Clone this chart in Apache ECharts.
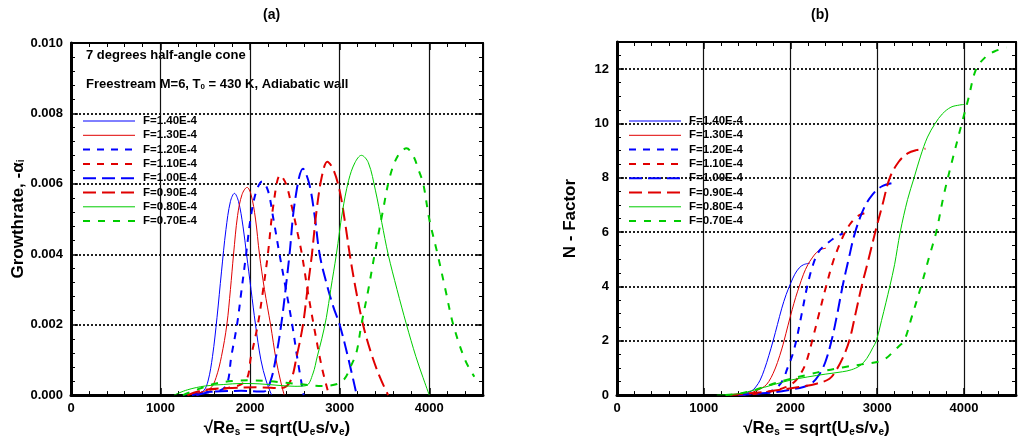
<!DOCTYPE html>
<html>
<head>
<meta charset="utf-8">
<script src="https://cdn.jsdelivr.net/npm/echarts@6/dist/echarts.min.js"></script>
<style>
  html, body { margin: 0; padding: 0; background: #fff; }
  #chart { width: 1019px; height: 442px; }
</style>
</head>
<body>
<div id="chart"></div>
<script>
// Disturbance frequencies
const freqLabels = ['F=1.40E-4', 'F=1.30E-4', 'F=1.20E-4', 'F=1.10E-4',
                    'F=1.00E-4', 'F=0.90E-4', 'F=0.80E-4', 'F=0.70E-4'];

// Axis ticks
const xTicks = [0, 1000, 2000, 3000, 4000];
const growthTicks = [0, 0.002, 0.004, 0.006, 0.008, 0.010];
const nTicks = [0, 2, 4, 6, 8, 10, 12];

// (a) growth rate -alpha_i versus sqrt(Re_s)
const g140X = [1250, 1400, 1480, 1530, 1580, 1630, 1680, 1730, 1780, 1825, 1870, 1920, 1960, 2010, 2060, 2120, 2180, 2240];
const g140Y = [0, 0.00005, 0.00012, 0.0004, 0.0011, 0.0022, 0.0035, 0.0047, 0.0055, 0.00573, 0.0055, 0.0048, 0.0040, 0.0030, 0.0020, 0.0010, 0.0004, 0];
const g130X = [1300, 1450, 1560, 1620, 1680, 1740, 1780, 1815, 1860, 1910, 1966, 2010, 2060, 2104, 2160, 2228, 2290, 2340, 2380];
const g130Y = [0, 0.00008, 0.0002, 0.0005, 0.0011, 0.0020, 0.0030, 0.0040, 0.0051, 0.0057, 0.0059, 0.0057, 0.0050, 0.0040, 0.0030, 0.0020, 0.0010, 0.0004, 0];
const g120X = [1350, 1500, 1650, 1740, 1790, 1854, 1900, 1955, 2010, 2070, 2134, 2200, 2260, 2328, 2400, 2470, 2530, 2597];
const g120Y = [0, 0.00008, 0.00012, 0.0003, 0.0011, 0.0020, 0.0029, 0.0040, 0.0051, 0.0058, 0.00607, 0.0058, 0.0050, 0.0040, 0.0030, 0.0020, 0.0010, 0];
const g110X = [1400, 1550, 1750, 1948, 2010, 2086, 2140, 2198, 2260, 2336, 2400, 2470, 2530, 2578, 2640, 2709, 2800, 2880];
const g110Y = [0, 0.00015, 0.0002, 0.0004, 0.0011, 0.0020, 0.0029, 0.0040, 0.0054, 0.00625, 0.0060, 0.0053, 0.0046, 0.0040, 0.0030, 0.0020, 0.0008, 0];
const g100X = [1400, 1600, 1900, 2150, 2228, 2290, 2347, 2400, 2440, 2500, 2590, 2660, 2720, 2776, 2850, 2930, 3000, 3100, 3190];
const g100Y = [0, 0.0001, 0.00012, 0.0001, 0.0004, 0.0011, 0.0020, 0.0031, 0.0040, 0.0055, 0.00643, 0.0060, 0.0051, 0.0040, 0.0032, 0.0025, 0.0020, 0.0010, 0];
const g090X = [1300, 1500, 1800, 2100, 2350, 2450, 2520, 2590, 2640, 2690, 2740, 2800, 2862, 2930, 3000, 3060, 3112, 3180, 3261, 3350, 3450, 3541];
const g090Y = [0, 0.00015, 0.0002, 0.00022, 0.0002, 0.0004, 0.0011, 0.0020, 0.0030, 0.0040, 0.0052, 0.0062, 0.00663, 0.0064, 0.0058, 0.0049, 0.0040, 0.0030, 0.0020, 0.0012, 0.0005, 0];
const g080X = [1150, 1300, 1500, 1700, 1900, 2100, 2300, 2500, 2627, 2700, 2750, 2800, 2851, 2900, 2963, 3030, 3100, 3170, 3242, 3320, 3400, 3470, 3541, 3640, 3746, 3850, 3930, 4000];
const g080Y = [0, 0.00015, 0.00026, 0.0003, 0.00033, 0.00032, 0.00028, 0.00025, 0.00027, 0.0006, 0.0011, 0.0016, 0.0022, 0.0030, 0.0040, 0.0052, 0.0061, 0.0066, 0.00681, 0.0066, 0.0058, 0.0049, 0.0040, 0.0030, 0.0020, 0.0011, 0.0005, 0];
const g070X = [1250, 1400, 1600, 1800, 2000, 2200, 2400, 2600, 2800, 2950, 3050, 3120, 3186, 3242, 3320, 3390, 3480, 3560, 3650, 3746, 3820, 3880, 3933, 4000, 4093, 4180, 4268, 4400, 4503];
const g070Y = [0, 0.00015, 0.00032, 0.0004, 0.00042, 0.0004, 0.00035, 0.0003, 0.00026, 0.0003, 0.00045, 0.0008, 0.0012, 0.0020, 0.0030, 0.0040, 0.0052, 0.0062, 0.0068, 0.00701, 0.0068, 0.0064, 0.0060, 0.0050, 0.0040, 0.0030, 0.0020, 0.0010, 0.00052];

// (b) N-factor versus sqrt(Re_s)
const n140X = [1300, 1450, 1550, 1600, 1650, 1700, 1750, 1800, 1850, 1900, 1950, 2000, 2050, 2100, 2150, 2224];
const n140Y = [0, 0.05, 0.15, 0.3, 0.55, 0.95, 1.45, 2.0, 2.6, 3.2, 3.7, 4.1, 4.45, 4.68, 4.8, 4.86];
const n130X = [1350, 1500, 1600, 1700, 1750, 1800, 1850, 1900, 1926, 1970, 2020, 2060, 2101, 2150, 2200, 2250, 2300, 2350, 2410];
const n130Y = [0, 0.05, 0.15, 0.32, 0.5, 0.8, 1.2, 1.7, 2.0, 2.55, 3.15, 3.6, 4.0, 4.45, 4.8, 5.05, 5.25, 5.36, 5.41];
const n120X = [1400, 1600, 1750, 1850, 1920, 1960, 2020, 2066, 2130, 2193, 2260, 2330, 2430, 2520, 2604];
const n120Y = [0, 0.05, 0.12, 0.3, 0.6, 0.95, 1.45, 2.0, 3.0, 4.0, 4.8, 5.3, 5.6, 5.82, 5.95];
const n110X = [1400, 1600, 1800, 1950, 2050, 2120, 2180, 2250, 2330, 2410, 2490, 2560, 2630, 2700, 2780, 2880];
const n110Y = [0, 0.05, 0.15, 0.3, 0.5, 0.8, 1.2, 2.0, 3.0, 4.0, 4.9, 5.5, 6.0, 6.35, 6.6, 6.72];
const n100X = [1400, 1600, 1800, 2000, 2150, 2250, 2330, 2400, 2473, 2540, 2600, 2670, 2746, 2850, 2950, 3050, 3164];
const n100Y = [0, 0.05, 0.1, 0.2, 0.3, 0.45, 0.75, 1.2, 2.0, 3.0, 4.0, 5.0, 6.0, 6.9, 7.4, 7.68, 7.8];
const n090X = [1300, 1500, 1700, 1900, 2100, 2300, 2450, 2530, 2600, 2678, 2750, 2820, 2900, 2977, 3060, 3145, 3250, 3350, 3450, 3556];
const n090Y = [0, 0.05, 0.12, 0.2, 0.3, 0.42, 0.6, 0.93, 1.35, 2.0, 3.0, 4.0, 5.0, 6.0, 7.0, 8.0, 8.6, 8.9, 9.02, 9.07];
const n080X = [1150, 1400, 1600, 1800, 2000, 2200, 2400, 2600, 2700, 2800, 2880, 2950, 2990, 3050, 3100, 3145, 3200, 3265, 3350, 3425, 3500, 3580, 3668, 3750, 3850, 3950, 4003];
const n080Y = [0, 0.05, 0.2, 0.38, 0.55, 0.67, 0.77, 0.86, 0.93, 1.08, 1.35, 1.75, 2.0, 2.75, 3.4, 4.0, 4.8, 6.0, 7.2, 8.0, 8.8, 9.5, 10.0, 10.35, 10.6, 10.68, 10.7];
const n070X = [1250, 1400, 1600, 1800, 2000, 2200, 2400, 2600, 2800, 3000, 3100, 3200, 3250, 3311, 3400, 3505, 3600, 3680, 3770, 3870, 3975, 4050, 4140, 4250, 4350, 4490];
const n070Y = [0, 0.05, 0.2, 0.42, 0.6, 0.75, 0.9, 1.02, 1.12, 1.22, 1.35, 1.65, 1.8, 2.0, 2.9, 4.0, 5.1, 6.0, 7.4, 8.7, 10.0, 10.9, 12.0, 12.45, 12.65, 12.8];

const growthX = [g140X, g130X, g120X, g110X, g100X, g090X, g080X, g070X];
const growthY = [g140Y, g130Y, g120Y, g110Y, g100Y, g090Y, g080Y, g070Y];
const nFactorX = [n140X, n130X, n120X, n110X, n100X, n090X, n080X, n070X];
const nFactorY = [n140Y, n130Y, n120Y, n110Y, n100Y, n090Y, n080Y, n070Y];

// Line appearance per frequency
const BLUE = '#0000ff', RED = '#e00000', GREEN = '#00cc00';
const lineStyles = [
  { color: BLUE,  width: 1, type: 'solid' },
  { color: RED,   width: 1, type: 'solid' },
  { color: BLUE,  width: 2, type: [7, 7] },
  { color: RED,   width: 2, type: [7, 7] },
  { color: BLUE,  width: 2, type: [13, 6] },
  { color: RED,   width: 2, type: [13, 6] },
  { color: GREEN, width: 1, type: 'solid' },
  { color: GREEN, width: 2, type: [7, 8] }
];

const FONT = '"Liberation Sans", Arial, Helvetica, sans-serif';
const zip = (xs, ys) => xs.map((x, i) => [x, ys[i]]);

const subRich = {
  a: { fontSize: 17, fontWeight: 'bold', fontFamily: FONT, color: '#000', lineHeight: 20, verticalAlign: 'bottom' },
  s: { fontSize: 10, fontWeight: 'bold', fontFamily: FONT, color: '#000', lineHeight: 10, verticalAlign: 'bottom' }
};
const xName = '{a|√Re}{s|s}{a| = sqrt(U}{s|e}{a|s/ν}{s|e}{a|)}';

function bottomAxis(g) {
  return {
    gridIndex: g, type: 'value', position: 'bottom', min: 0, max: 4600, interval: 1000,
    axisLine: { show: true, onZero: false, lineStyle: { color: '#000', width: 3 } },
    axisTick: { show: true, inside: true, length: 7, lineStyle: { color: '#000', width: 1.5 } },
    minorTick: { show: true, splitNumber: 5, length: 4, lineStyle: { color: '#000', width: 1 } },
    axisLabel: { color: '#000', fontSize: 13, fontWeight: 'bold', fontFamily: FONT, margin: 7,
                 formatter: v => xTicks.includes(v) ? String(v) : '' },
    splitLine: { show: true, lineStyle: { color: '#111', width: 1.2 } },
    name: xName, nameLocation: 'middle', nameGap: 18,
    nameTextStyle: { rich: subRich }
  };
}
function topAxis(g) {
  return {
    gridIndex: g, type: 'value', position: 'top', min: 0, max: 4600, interval: 1000,
    axisLine: { show: true, onZero: false, lineStyle: { color: '#000', width: 2 } },
    axisTick: { show: true, inside: true, length: 7, lineStyle: { color: '#000', width: 1.5 } },
    minorTick: { show: true, splitNumber: 5, length: 4, lineStyle: { color: '#000', width: 1 } },
    axisLabel: { show: false }, splitLine: { show: false }
  };
}
function leftAxis(g, max, interval, minorSplit, fmt, name, gap) {
  return {
    gridIndex: g, type: 'value', position: 'left', min: 0, max: max, interval: interval,
    axisLine: { show: true, onZero: false, lineStyle: { color: '#000', width: 3 } },
    axisTick: { show: true, inside: true, length: 7, lineStyle: { color: '#000', width: 1.5 } },
    minorTick: { show: true, splitNumber: minorSplit, length: 4, lineStyle: { color: '#000', width: 1 } },
    axisLabel: { color: '#000', fontSize: 13, fontWeight: 'bold', fontFamily: FONT, margin: 8, formatter: fmt },
    splitLine: { show: true, lineStyle: { color: '#222', width: 2, type: 'dotted' } },
    name: name, nameLocation: 'middle', nameGap: gap, nameRotate: 90,
    nameTextStyle: { rich: subRich }
  };
}
function rightAxis(g, max, interval, minorSplit) {
  return {
    gridIndex: g, type: 'value', position: 'right', min: 0, max: max, interval: interval,
    axisLine: { show: true, onZero: false, lineStyle: { color: '#000', width: 2 } },
    axisTick: { show: true, inside: true, length: 7, lineStyle: { color: '#000', width: 1.5 } },
    minorTick: { show: true, splitNumber: minorSplit, length: 4, lineStyle: { color: '#000', width: 1 } },
    axisLabel: { show: false }, splitLine: { show: false }
  };
}

const series = [];
freqLabels.forEach((name, i) => {
  series.push({
    name: name, type: 'line', xAxisIndex: 0, yAxisIndex: 0,
    data: zip(growthX[i], growthY[i]), symbol: 'none', smooth: 0.35,
    lineStyle: lineStyles[i], itemStyle: { color: lineStyles[i].color }, z: 3
  });
});
freqLabels.forEach((name, i) => {
  series.push({
    name: name, type: 'line', xAxisIndex: 1, yAxisIndex: 1,
    data: zip(nFactorX[i], nFactorY[i]), symbol: 'none', smooth: 0.35,
    lineStyle: lineStyles[i], itemStyle: { color: lineStyles[i].color }, z: 3
  });
});

// Legend keys show only the line sample (same width and dash as the curve), no marker
const legendEntries = freqLabels.map((name, i) => ({
  name: name,
  lineStyle: { width: lineStyles[i].width, type: lineStyles[i].type, color: lineStyles[i].color }
}));
const legendBase = {
  data: legendEntries, orient: 'vertical', top: 114, padding: 0,
  itemWidth: 52, itemHeight: 14, itemGap: 0.3, selectedMode: false,
  itemStyle: { opacity: 0, borderWidth: 0 },
  textStyle: { color: '#000', fontSize: 11.5, fontWeight: 'bold', fontFamily: FONT, lineHeight: 14, padding: [0, 0, 0, 3] }
};

const option = {
  animation: false,
  textStyle: { fontFamily: FONT },
  grid: [
    { left: 71, top: 43, width: 412, height: 354 },
    { left: 617, top: 42, width: 412, height: 355 }
  ],
  xAxis: [bottomAxis(0), bottomAxis(1), topAxis(0), topAxis(1)],
  yAxis: [
    leftAxis(0, 0.010, 0.002, 5, v => growthTicks.some(t => Math.abs(t - v) < 1e-9) ? v.toFixed(3) : '',
             '{a|Growthrate, -α}{s|i}', 42),
    leftAxis(1, 13, 2, 4, v => nTicks.includes(v) ? String(v) : '', '{a|N - Factor}', 38),
    rightAxis(0, 0.010, 0.002, 5),
    rightAxis(1, 13, 2, 4)
  ],
  legend: [
    Object.assign({}, legendBase, { left: 82 }),
    Object.assign({}, legendBase, { left: 628 })
  ],
  graphic: [
    { type: 'text', left: 263, top: 8, style: { text: '(a)', font: 'bold 14px ' + FONT, fill: '#000' } },
    { type: 'text', left: 811, top: 8, style: { text: '(b)', font: 'bold 14px ' + FONT, fill: '#000' } },
    { type: 'text', left: 86, top: 49, style: { text: '7 degrees half-angle cone', font: 'bold 13px ' + FONT, fill: '#000' } },
    { type: 'text', left: 86, top: 78, style: {
        text: '{a|Freestream M=6, T}{s|0}{a| = 430 K, Adiabatic wall}',
        rich: {
          a: { font: 'bold 13px ' + FONT, fill: '#000', lineHeight: 16, verticalAlign: 'bottom' },
          s: { font: 'bold 8px ' + FONT, fill: '#000', lineHeight: 9, verticalAlign: 'bottom' }
        } } }
  ],
  series: series
};

const chart = echarts.init(document.getElementById('chart'), null, { renderer: 'canvas' });
chart.setOption(option);
</script>
</body>
</html>
